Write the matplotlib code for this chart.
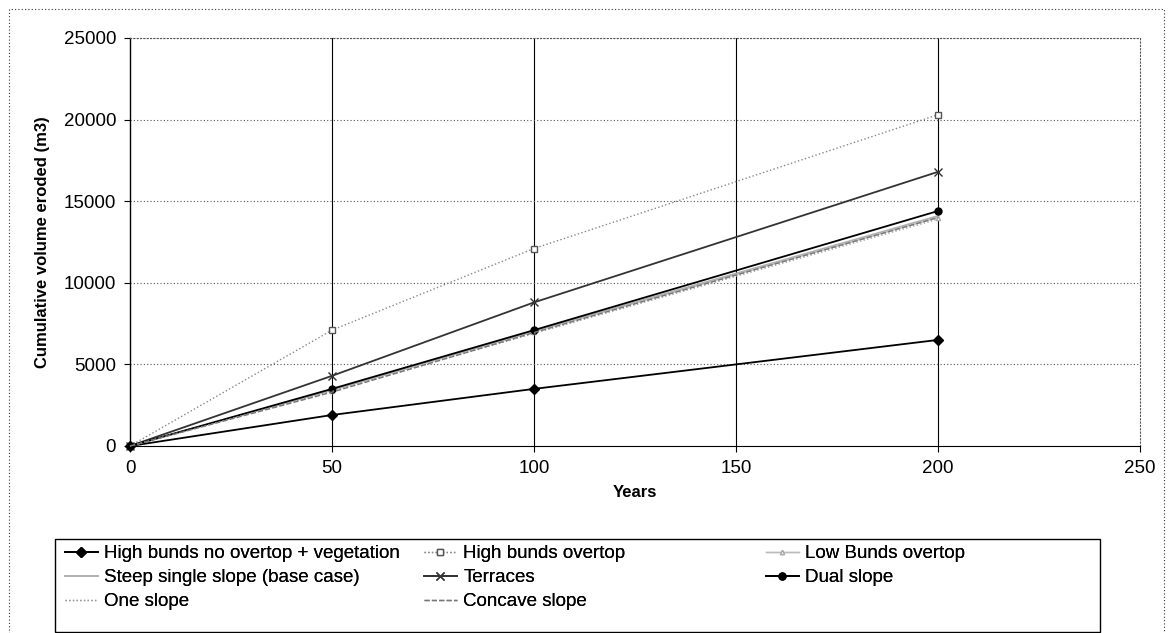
'''
Cumulative eroded volume over 200 years for different slope / bund scenarios.
'''
import matplotlib
matplotlib.use('Agg')
import matplotlib.pyplot as plt
from matplotlib.patches import Rectangle

plt.rcParams['font.family'] = ['Liberation Sans', 'DejaVu Sans']

W, H = 1172, 633

years = [0, 50, 100, 200]

hb_no_overtop_veg = [0, 1900, 3500, 6500]
hb_overtop = [0, 7100, 12100, 20300]
low_bunds_overtop = [0, 3400, 7000, 14000]
steep_single = [0, 3450, 7050, 14100]
terraces = [0, 4300, 8800, 16800]
dual_slope = [0, 3500, 7100, 14400]
one_slope = [0, 3350, 6900, 13900]
concave_slope = [0, 3300, 6950, 14000]

series = [
    ('High bunds no overtop + vegetation', hb_no_overtop_veg,
     dict(color='black', lw=1.3, ls='-', marker='D', ms=5)),
    ('High bunds overtop', hb_overtop,
     dict(color='#888888', lw=1.0, ls=':', marker='s', ms=4, mfc='white', mec='#555555')),
    ('Low Bunds overtop', low_bunds_overtop,
     dict(color='#bbbbbb', lw=1.0, ls='-', marker='^', ms=3, mfc='white', mec='#aaaaaa')),
    ('Steep single slope (base case)', steep_single,
     dict(color='#b0b0b0', lw=1.2, ls='-')),
    ('Terraces', terraces,
     dict(color='#333333', lw=1.3, ls='-', marker='x', ms=6)),
    ('Dual slope', dual_slope,
     dict(color='black', lw=1.3, ls='-', marker='o', ms=5)),
    ('One slope', one_slope,
     dict(color='#999999', lw=1.0, ls=':')),
    ('Concave slope', concave_slope,
     dict(color='#777777', lw=1.0, ls='--')),
]

fig = plt.figure(figsize=(W / 100, H / 100), dpi=100)
ax = fig.add_axes([130 / W, 1 - 446 / H, 1010 / W, 408 / H])

handles = []
for label, vals, style in series:
    h, = ax.plot(years, vals, label=label, clip_on=False, zorder=3, **style)
    handles.append(h)

ax.set_xlim(0, 250)
ax.set_ylim(0, 25000)
ax.set_xticks([0, 50, 100, 150, 200, 250])
ax.set_yticks(range(0, 25001, 5000))

# Excel style grid: dotted horizontal, solid vertical (none at 0)
ax.grid(axis='y', color='#555555', ls=(0, (1, 2)), lw=0.8)
for xv in [50, 100, 150, 200]:
    ax.axvline(xv, color='black', lw=0.8, zorder=1)

ax.spines['left'].set_linewidth(1.0)
for side in ['top', 'right']:
    ax.spines[side].set_linestyle((0, (1, 2)))
    ax.spines[side].set_color('#555555')

ax.tick_params(axis='both', direction='out', length=4, labelsize=13.5, pad=6)
ax.set_xlabel('Years', fontsize=12, fontweight='bold', labelpad=6)
ax.set_ylabel('Cumulative volume eroded (m3)', fontsize=12, fontweight='bold', labelpad=10)

# legend: three columns placed like the Excel legend, with one box round them
col_x = [65, 424, 766]
for c, idx in enumerate([[0, 3, 6], [1, 4, 7], [2, 5]]):
    leg = fig.legend(
        [handles[i] for i in idx], [series[i][0] for i in idx],
        loc='upper left', bbox_to_anchor=(col_x[c] / W, 1 - 545 / H),
        frameon=False, fontsize=13.5, borderaxespad=0, borderpad=0,
        handlelength=1.75, handletextpad=0.35, labelspacing=0.37
    )
    fig.add_artist(leg)

fig.patches.append(Rectangle(
    (55 / W, 1 - 632 / H), 1045 / W, 93 / H, transform=fig.transFigure,
    fill=False, lw=1.0, ec='black'
))

# dotted outer border of the chart area
fig.patches.append(Rectangle(
    (9 / W, -0.02), 1155 / W, 1 - 9 / H + 0.02, transform=fig.transFigure,
    fill=False, ls=(0, (1, 2)), lw=0.8, ec='#333333'
))

fig.savefig('out.png', dpi=100)
